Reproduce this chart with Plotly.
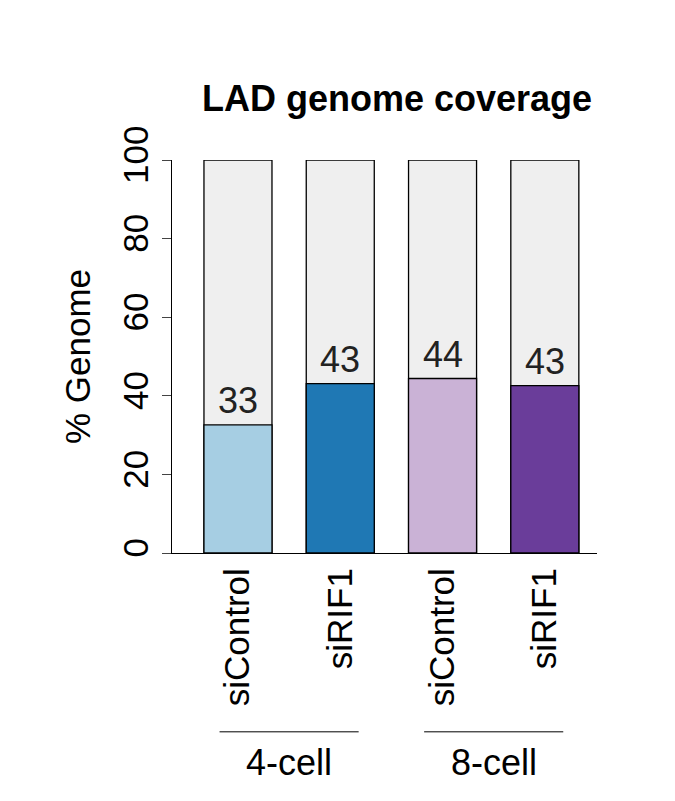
import plotly.graph_objects as go

samples = ["siControl", "siRIF1", "siControl", "siRIF1"]
groups = ["4-cell", "8-cell"]
lad_pct = [32.6, 43.1, 44.4, 42.6]
labels = ["33", "43", "44", "43"]
colors = ["#a6cee3", "#1f78b4", "#cab2d6", "#6a3d9a"]
total = [100, 100, 100, 100]
xpos = [0, 1, 2, 3]

font = "Liberation Sans, Arial, sans-serif"
fig = go.Figure()
fig.add_trace(go.Bar(x=xpos, y=total, width=0.665, marker=dict(color="#efefef", line=dict(color="black", width=1.3)),
                     hoverinfo="skip"))
fig.add_trace(go.Bar(x=xpos, y=lad_pct, width=0.665, marker=dict(color=colors, line=dict(color="black", width=1.3))))
for x, v, t in zip(xpos, lad_pct, labels):
    fig.add_annotation(x=x, y=v, text=t, showarrow=False, yanchor="bottom", yshift=2,
                       font=dict(size=36, color="#222", family=font))

# group labels with lines below tick labels
for i, g in enumerate(groups):
    x0, x1 = 2 * i - 0.18, 2 * i + 1.18
    fig.add_shape(type="line", xref="x", yref="paper", x0=x0, x1=x1, y0=-0.455, y1=-0.455,
                  line=dict(color="black", width=1))
    fig.add_annotation(xref="x", yref="paper", x=2 * i + 0.5, y=-0.475, yanchor="top", text=g, showarrow=False,
                       font=dict(size=36, color="black", family=font))

fig.add_annotation(xref="paper", yref="paper", x=0.53, y=1.1, text="<b>LAD genome coverage</b>",
                   showarrow=False, yanchor="bottom", font=dict(size=36, color="black", family=font))

fig.update_layout(
    width=675, height=801, barmode="overlay", showlegend=False,
    plot_bgcolor="white", paper_bgcolor="white",
    margin=dict(l=164, r=86, t=152, b=256),
    font=dict(family=font, color="black"),
    xaxis=dict(range=[-0.645, 3.51], tickvals=xpos, ticktext=samples, tickangle=-90,
               showline=True, linecolor="black", linewidth=1.3, showgrid=False, zeroline=False,
               tickfont=dict(size=35), ticks=""),
    yaxis=dict(range=[0, 100], tickvals=[0, 20, 40, 60, 80, 100], tickangle=-90,
               showline=True, linecolor="black", linewidth=1.3, showgrid=False, zeroline=False,
               ticks="outside", ticklen=9, tickfont=dict(size=35),
               title=dict(text="% Genome", font=dict(size=35), standoff=14)),
)
fig.write_html("out.html")
